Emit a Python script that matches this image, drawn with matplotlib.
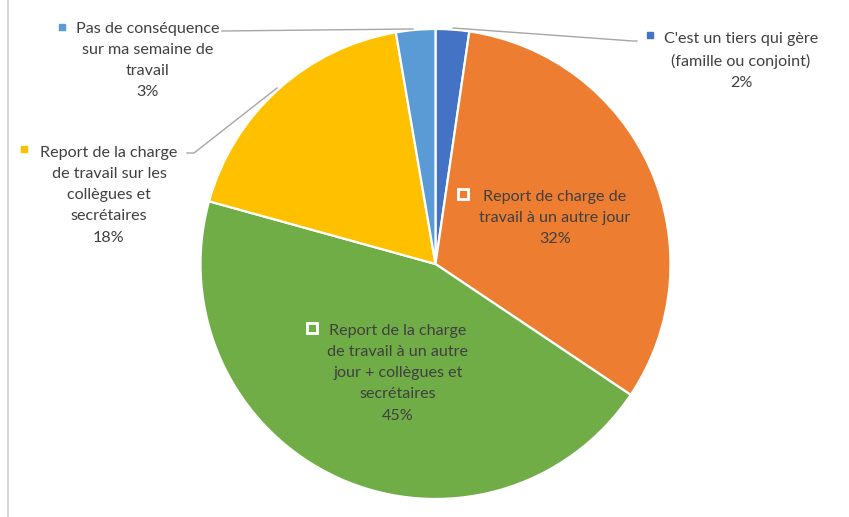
import matplotlib.pyplot as plt

# Slices, clockwise from 12 o'clock
labels = [
    "C'est un tiers qui gère\n(famille ou conjoint)",
    "Report de charge de\ntravail à un autre jour",
    "Report de la charge\nde travail à un autre\njour + collègues et\nsecrétaires",
    "Report de la charge\nde travail sur les\ncollègues et\nsecrétaires",
    "Pas de conséquence\nsur ma semaine de\ntravail",
]
values = [2.3, 32.1, 44.9, 18.0, 2.7]
colors = ["#4472C4", "#ED7D31", "#70AD47", "#FFC000", "#5B9BD5"]

W, H = 849, 517
fig = plt.figure(figsize=(W / 100, H / 100), dpi=100)
ax = fig.add_axes([0, 0, 1, 1])

# work in pixel coordinates, y pointing down
cx, cy, r = 435.5, 264, 235
wedges, _ = ax.pie(values, colors=colors, startangle=270, counterclock=True,
                   center=(cx, cy), radius=r,
                   wedgeprops=dict(edgecolor="white", linewidth=1.6))
ax.set_xlim(0, W)
ax.set_ylim(H, 0)
ax.set_aspect("equal")
ax.axis("off")

font = dict(family="Lato", fontsize=11.6, color="#404040", linespacing=1.66)

def pct(v):
    return "%d%%" % round(v)

# label: center x, first line center y, marker x, marker y, inside?
label_pos = [
    (741, 37, 650, 35, False),
    (555, 195, 463, 194, True),
    (398, 329, 312, 328, True),
    (109, 151, 24, 149, False),
    (148, 27, 62, 27, False),
]

for i, (tx, ty, mx, my, inside) in enumerate(label_pos):
    ax.text(tx, ty - 5.5, labels[i] + "\n" + pct(values[i]), ha="center",
            va="top", **font)
    if inside:
        ax.plot(mx, my, marker="s", ms=7.5, mfc=colors[i], mec="white", mew=2)
    else:
        ax.plot(mx, my, marker="s", ms=5, mfc=colors[i], mec=colors[i])

# leader lines for the outside labels
line_kw = dict(color="#A6A6A6", lw=1)
ax.plot([453, 633, 637], [28, 41, 41], **line_kw)
ax.plot([187, 194, 277], [153, 153, 88], **line_kw)
ax.plot([222, 413], [31, 29], **line_kw)

# chart area border on the left
ax.plot([8.5, 8.5], [0, H], color="#D9D9D9", lw=1.5)

fig.savefig("out.png", dpi=100)
